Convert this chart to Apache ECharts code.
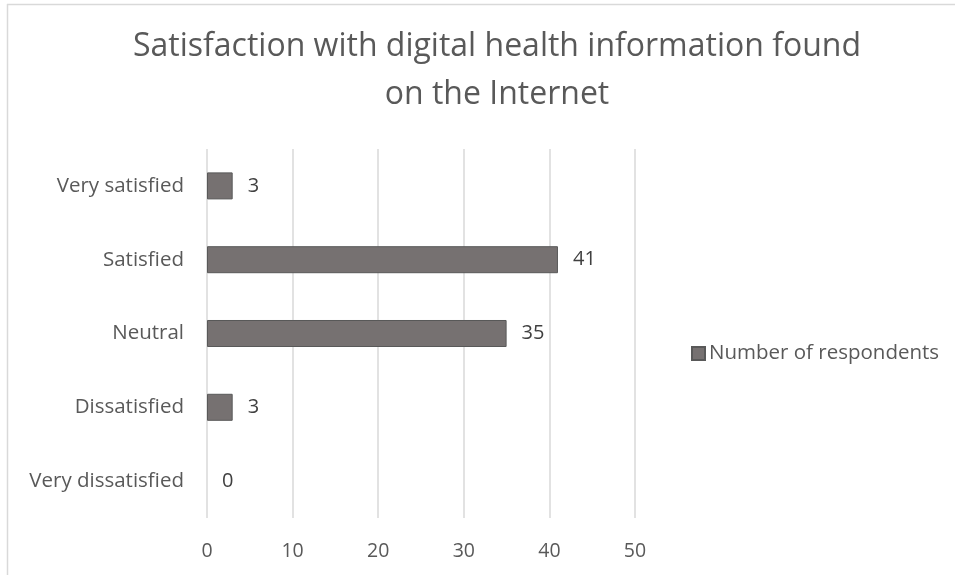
<!DOCTYPE html>
<html><head><meta charset="utf-8">
<script src="https://cdn.jsdelivr.net/npm/echarts@6/dist/echarts.min.js"></script>
<style>html,body{margin:0;padding:0;background:#fff}#c{width:955px;height:575px}</style>
</head><body><div id="c"></div>
<script>
const titleText = 'Satisfaction with digital health information found\non the Internet';
const categories = ['Very dissatisfied', 'Dissatisfied', 'Neutral', 'Satisfied', 'Very satisfied'];
const values = [0, 3, 35, 41, 3];
const seriesName = 'Number of respondents';
const xTicks = [0, 10, 20, 30, 40, 50];

const FONT = '"Open Sans", sans-serif';
const chart = echarts.init(document.getElementById('c'));
chart.setOption({
  animation: false,
  textStyle: { fontFamily: FONT },
  title: {
    text: titleText, left: 492, top: 18, textAlign: 'center',
    textStyle: { fontFamily: FONT, fontSize: 32, fontWeight: 'normal', color: '#595959', lineHeight: 48 }
  },
  graphic: [
    { type: 'line', shape: { x1: 7.5, y1: 4, x2: 7.5, y2: 575 }, style: { stroke: '#d9d9d9', lineWidth: 1.5 } },
    { type: 'line', shape: { x1: 7, y1: 4.5, x2: 955, y2: 4.5 }, style: { stroke: '#d9d9d9', lineWidth: 1.5 } }
  ],
  legend: {
    left: 686, top: 338, itemWidth: 13, itemHeight: 13, itemGap: 5,
    textStyle: { fontFamily: FONT, fontSize: 20.5, color: '#595959', padding: [0, 0, 0, -1] },
    data: [{ name: seriesName, icon: 'rect' }]
  },
  grid: { left: 207, right: 320, top: 149, bottom: 57, containLabel: false },
  xAxis: {
    type: 'value', min: 0, max: 50, interval: 10,
    axisLine: { show: false }, axisTick: { show: false },
    splitLine: { lineStyle: { color: '#d9d9d9', width: 1.5 } },
    axisLabel: { fontFamily: FONT, fontSize: 19.5, color: '#595959', margin: 23,
      formatter: v => xTicks.includes(v) ? String(v) : '' }
  },
  yAxis: {
    type: 'category', data: categories,
    axisLine: { show: false }, axisTick: { show: false },
    axisLabel: { fontFamily: FONT, fontSize: 20.5, color: '#595959', margin: 23 }
  },
  series: [{
    name: seriesName, type: 'bar', barWidth: '36.6%',
    data: values.map(v => v === 0 ? { value: v, itemStyle: { borderWidth: 0 } } : v),
    itemStyle: { color: '#767171', borderColor: '#595959', borderWidth: 1 },
    label: { show: true, position: 'right', distance: 15, fontFamily: FONT, fontSize: 20, color: '#404040' }
  }]
});
</script></body></html>
